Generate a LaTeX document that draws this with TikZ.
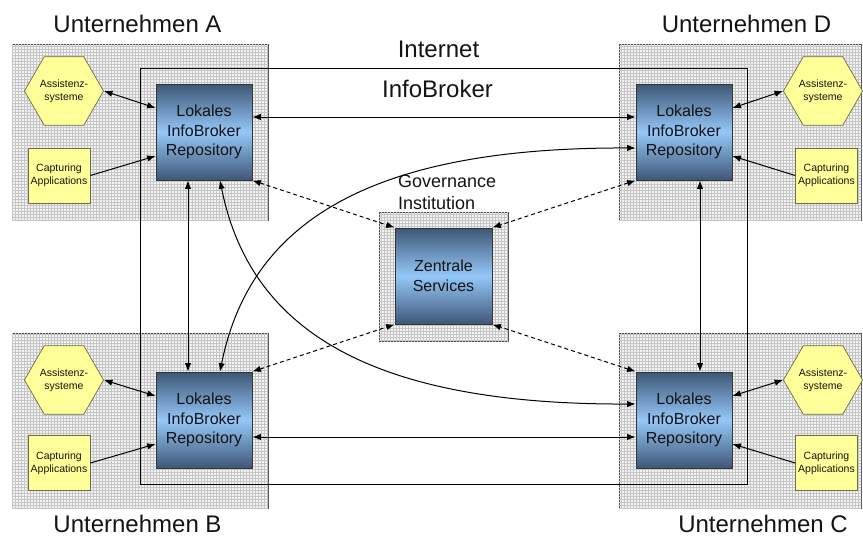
\documentclass[tikz,border=0pt]{standalone}
\usepackage{fontspec}
\setmainfont{Liberation Sans}
\usetikzlibrary{arrows.meta,patterns,shapes.geometric}

\definecolor{repoEdge}{RGB}{62,86,118}
\definecolor{repoMid}{RGB}{148,200,248}
\definecolor{appFill}{RGB}{255,255,153}
\definecolor{appEdge}{RGB}{110,110,70}
\definecolor{ink}{RGB}{20,20,20}

\tikzset{
  company/.style={draw=black!70, line width=0.7pt, fill=gray!10,
    postaction={pattern=grid, pattern color=gray!45},
    inner sep=0pt},
  repo/.style={draw=black!80, line width=0.8pt, top color=repoEdge,
    bottom color=repoEdge, middle color=repoMid, minimum width=96pt,
    minimum height=96pt, inner sep=0pt, align=center, text=ink,
    font=\fontsize{16}{19.5}\selectfont},
  hexnode/.style={regular polygon, regular polygon sides=6, minimum size=72pt,
    inner sep=0pt, draw=appEdge, line width=0.7pt, fill=appFill,
    align=center, text=ink, font=\fontsize{10.5}{13}\selectfont},
  appbox/.style={draw=appEdge, line width=0.7pt, fill=appFill,
    minimum width=62pt, minimum height=55pt, inner sep=0pt, align=center,
    text=ink, font=\fontsize{10.5}{13}\selectfont},
  biglabel/.style={inner sep=0pt, text=ink, font=\fontsize{24}{28}\selectfont},
  link/.style={line width=1pt, -{Latex[length=8.5pt,width=6.5pt]}},
  dlink/.style={line width=1pt, {Latex[length=8.5pt,width=6.5pt]}-{Latex[length=8.5pt,width=6.5pt]}},
  govlink/.style={dlink, dashed, dash pattern=on 4pt off 3pt},
}

\begin{document}
\begin{tikzpicture}[x=1pt,y=-1pt]
\useasboundingbox (0,0) rectangle (863,538);

% company areas
\node[company, minimum width=256pt, minimum height=176pt] (compA) at (140,132) {};
\node[company, minimum width=242pt, minimum height=176pt] (compD) at (740,132) {};
\node[company, minimum width=256pt, minimum height=175pt] (compB) at (140,420.5) {};
\node[company, minimum width=242pt, minimum height=175pt] (compC) at (740,420.5) {};

% governance institution
\node[company, minimum width=129pt, minimum height=129pt] (gov) at (443.5,276.5) {};

% InfoBroker frame over the Internet
\node[draw=black, line width=0.8pt, minimum width=607pt, minimum height=416pt,
      inner sep=0pt] (frame) at (443.5,276) {};

% labels
\node[biglabel, anchor=base] (labA) at (137.5,32) {Unternehmen A};
\node[biglabel, anchor=base] (labD) at (746.5,32) {Unternehmen D};
\node[biglabel, anchor=base] (labB) at (137.5,532) {Unternehmen B};
\node[biglabel, anchor=base] (labC) at (763,532) {Unternehmen C};
\node[biglabel, anchor=base] (labNet) at (438.5,57) {Internet};
\node[biglabel, anchor=base] (labIB) at (437.5,97) {InfoBroker};
\node[inner sep=0pt, anchor=north west, align=left, text=ink,
      font=\fontsize{18}{22}\selectfont] (labGov) at (398,175)
      {Governance\\Institution};

% repositories and central services
\node[repo] (repoA) at (204,132) {Lokales\\InfoBroker\\Repository};
\node[repo] (repoD) at (684,132) {Lokales\\InfoBroker\\Repository};
\node[repo] (repoB) at (204,420) {Lokales\\InfoBroker\\Repository};
\node[repo] (repoC) at (684,420) {Lokales\\InfoBroker\\Repository};
\node[repo, minimum width=97pt] (zentrale) at (443.5,276) {Zentrale\\Services};

% local applications
\node[hexnode] (hexA) at (64,91) {Assistenz-\\systeme};
\node[appbox] (capA) at (59,175.5) {Capturing\\Applications};
\node[hexnode] (hexD) at (823,91) {Assistenz-\\systeme};
\node[appbox] (capD) at (826.5,175.5) {Capturing\\Applications};
\node[hexnode] (hexB) at (64,380) {Assistenz-\\systeme};
\node[appbox] (capB) at (59,463) {Capturing\\Applications};
\node[hexnode] (hexC) at (823,380) {Assistenz-\\systeme};
\node[appbox] (capC) at (826.5,463) {Capturing\\Applications};

% local links
\draw[dlink] (hexA.east) -- ([yshift=24pt]repoA.west);
\draw[link]  (capA.east) -- ([yshift=-24pt]repoA.west);
\draw[dlink] (hexD.west) -- ([yshift=24pt]repoD.east);
\draw[link]  (capD.west) -- ([yshift=-24pt]repoD.east);
\draw[dlink] (hexB.east) -- ([yshift=24pt]repoB.west);
\draw[link]  (capB.east) -- ([yshift=-24pt]repoB.west);
\draw[dlink] (hexC.west) -- ([yshift=24pt]repoC.east);
\draw[link]  (capC.west) -- ([yshift=-24pt]repoC.east);

% links between repositories
\draw[dlink] ([yshift=15pt]repoA.east) -- ([yshift=15pt]repoD.west);
\draw[dlink] ([yshift=-17pt]repoB.east) -- ([yshift=-17pt]repoC.west);
\draw[dlink] ([xshift=-16pt]repoA.south) -- ([xshift=-16pt]repoB.north);
\draw[dlink] ([xshift=16pt]repoD.south) -- ([xshift=16pt]repoC.north);
\draw[dlink] ([xshift=16pt]repoA.south) .. controls (250,330) and (370,405) .. ([yshift=16pt]repoC.west);
\draw[dlink] ([xshift=16pt]repoB.north) .. controls (250,222) and (370,147) .. ([yshift=-16pt]repoD.west);

% links to the central services
\draw[govlink] (repoA.south east) -- (zentrale.north west);
\draw[govlink] (repoD.south west) -- (zentrale.north east);
\draw[govlink] (repoB.north east) -- (zentrale.south west);
\draw[govlink] (repoC.north west) -- (zentrale.south east);
\end{tikzpicture}
\end{document}
